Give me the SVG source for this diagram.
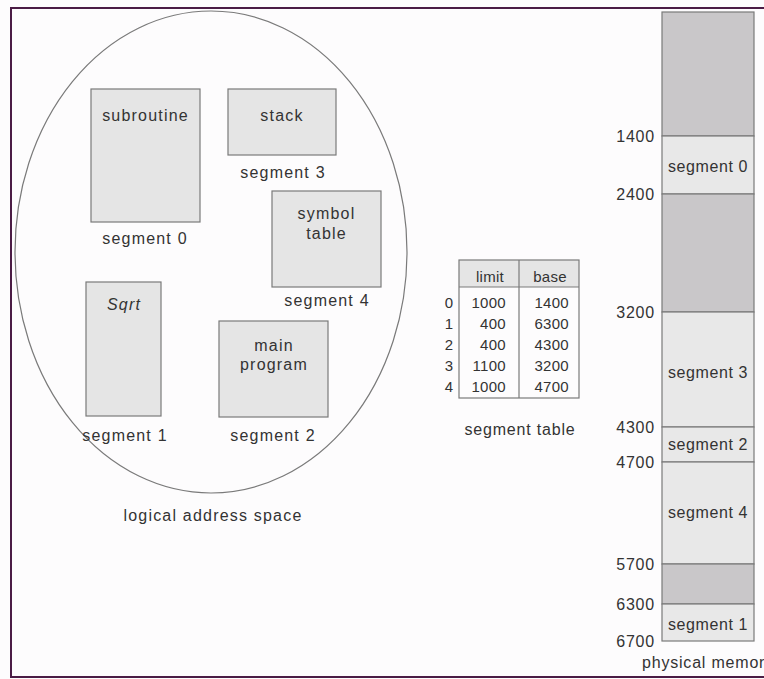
<svg xmlns="http://www.w3.org/2000/svg" width="764" height="679" viewBox="0 0 764 679">
<style>
  text { font-family: "Liberation Sans", Arial, sans-serif; fill: #333; }
  .lbl { font-size: 16px; letter-spacing: 1.2px; text-anchor: middle; }
  .num { font-size: 16px; letter-spacing: 0.8px; text-anchor: end; }
  .tb { font-size: 15px; letter-spacing: 0.3px; }
  .box { fill: #e5e5e5; stroke: #7a7a7a; stroke-width: 1.2; }
  .dark { fill: #c9c7c9; stroke: #7a7a7a; stroke-width: 1.2; }
  .light { fill: #e8e8e8; stroke: #7a7a7a; stroke-width: 1.2; }
  .frame { stroke: #4b1c45; stroke-width: 2; fill: none; }
</style>
<rect x="0" y="0" width="764" height="679" fill="#fdfcfd"/>
<path class="frame" d="M764 8 H11 V677 H764"/>

<g id="logical-space">
  <ellipse cx="211" cy="252" rx="196" ry="241" fill="none" stroke="#7a7a7a" stroke-width="1.2"/>
  <text class="lbl" x="213" y="521">logical address space</text>
</g>

<g id="seg0">
  <rect class="box" x="91" y="89" width="109" height="133"/>
  <text class="lbl" x="145.5" y="121">subroutine</text>
  <text class="lbl" x="145" y="244">segment 0</text>
</g>
<g id="seg3">
  <rect class="box" x="228" y="89" width="108" height="66"/>
  <text class="lbl" x="282" y="121">stack</text>
  <text class="lbl" x="283" y="178">segment 3</text>
</g>
<g id="seg4">
  <rect class="box" x="272" y="191" width="109" height="96"/>
  <text class="lbl" x="326.5" y="219">symbol</text>
  <text class="lbl" x="326.5" y="239">table</text>
  <text class="lbl" x="327" y="306">segment 4</text>
</g>
<g id="seg1">
  <rect class="box" x="86" y="282" width="75" height="134"/>
  <text class="lbl" x="124" y="310" font-style="italic">Sqrt</text>
  <text class="lbl" x="125" y="441">segment 1</text>
</g>
<g id="seg2">
  <rect class="box" x="219" y="321" width="109" height="96"/>
  <text class="lbl" x="274" y="351">main</text>
  <text class="lbl" x="274" y="370">program</text>
  <text class="lbl" x="273" y="441">segment 2</text>
</g>

<g id="segment-table">
  <rect x="459" y="260" width="120" height="27" fill="#e5e5e5"/>
  <rect x="459" y="260" width="120" height="138" fill="none" stroke="#7a7a7a" stroke-width="1.2"/>
  <line x1="459" y1="287" x2="579" y2="287" stroke="#7a7a7a" stroke-width="1.2"/>
  <line x1="519" y1="260" x2="519" y2="398" stroke="#7a7a7a" stroke-width="1.2"/>
  <text class="tb" x="490" y="282" text-anchor="middle">limit</text>
  <text class="tb" x="550" y="282" text-anchor="middle">base</text>
  <g text-anchor="middle">
    <text class="tb" x="449" y="308">0</text>
    <text class="tb" x="449" y="329">1</text>
    <text class="tb" x="449" y="350">2</text>
    <text class="tb" x="449" y="371">3</text>
    <text class="tb" x="449" y="392">4</text>
  </g>
  <g text-anchor="end">
    <text class="tb" x="506" y="308">1000</text>
    <text class="tb" x="506" y="329">400</text>
    <text class="tb" x="506" y="350">400</text>
    <text class="tb" x="506" y="371">1100</text>
    <text class="tb" x="506" y="392">1000</text>
    <text class="tb" x="569" y="308">1400</text>
    <text class="tb" x="569" y="329">6300</text>
    <text class="tb" x="569" y="350">4300</text>
    <text class="tb" x="569" y="371">3200</text>
    <text class="tb" x="569" y="392">4700</text>
  </g>
  <text class="lbl" x="520" y="435" style="letter-spacing:0.8px">segment table</text>
</g>

<g id="physical-memory">
  <rect class="dark" x="662" y="12" width="92" height="124"/>
  <rect class="light" x="662" y="136" width="92" height="58"/>
  <rect class="dark" x="662" y="194" width="92" height="118"/>
  <rect class="light" x="662" y="312" width="92" height="115"/>
  <rect class="light" x="662" y="427" width="92" height="35"/>
  <rect class="light" x="662" y="462" width="92" height="102"/>
  <rect class="dark" x="662" y="564" width="92" height="40"/>
  <rect class="light" x="662" y="604" width="92" height="37"/>
  <text class="lbl" x="708" y="172" style="letter-spacing:0.6px">segment 0</text>
  <text class="lbl" x="708" y="378" style="letter-spacing:0.6px">segment 3</text>
  <text class="lbl" x="708" y="450" style="letter-spacing:0.6px">segment 2</text>
  <text class="lbl" x="708" y="518" style="letter-spacing:0.6px">segment 4</text>
  <text class="lbl" x="708" y="630" style="letter-spacing:0.6px">segment 1</text>
  <text class="num" x="655" y="142">1400</text>
  <text class="num" x="655" y="200">2400</text>
  <text class="num" x="655" y="318">3200</text>
  <text class="num" x="655" y="433">4300</text>
  <text class="num" x="655" y="468">4700</text>
  <text class="num" x="655" y="570">5700</text>
  <text class="num" x="655" y="610">6300</text>
  <text class="num" x="655" y="647">6700</text>
  <text x="642" y="668" style="font-size:16px;letter-spacing:0.8px">physical memor</text>
</g>
</svg>
